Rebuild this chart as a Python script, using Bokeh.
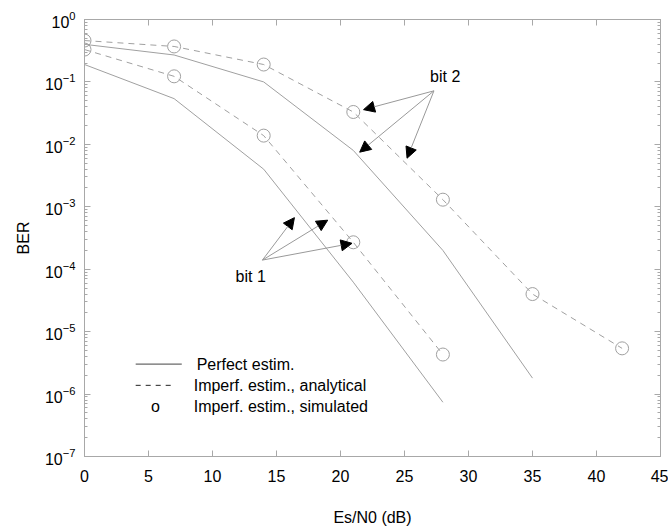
from bokeh.plotting import figure
from bokeh.models import (LogAxis, LinearAxis, LogTicker, SingleIntervalTicker, Range1d,
                          Arrow, NormalHead, Label, CustomJSTickFormatter)
from bokeh.embed import file_html
from bokeh.resources import INLINE

# ---------------- data ----------------
snr_db = [0, 7, 14, 21, 28, 35, 42]

bit1_perfect = [0.19, 0.054, 0.0040, 6.2e-5, 7.4e-7]
bit1_imperf_analytical = [0.33, 0.123, 0.0138, 2.7e-4, 4.3e-6]
bit1_imperf_simulated = [0.33, 0.123, 0.0138, 2.7e-4, 4.3e-6]

bit2_perfect = [0.40, 0.27, 0.10, 0.0080, 2.0e-4, 1.8e-6]
bit2_imperf_analytical = [0.46, 0.37, 0.19, 0.033, 1.3e-3, 4.0e-5, 5.4e-6]
bit2_imperf_simulated = [0.46, 0.37, 0.19, 0.033, 1.3e-3, 4.0e-5, 5.4e-6]

# annotation arrows (start -> end), data coordinates
bit1_label = ("bit 1", 11.8, 7.6e-5)
bit1_arrow_start = (13.9, 1.4e-4)
bit1_arrow_ends = [(16.4, 6.7e-4), (19.0, 6.1e-4), (20.9, 2.6e-4)]
bit2_label = ("bit 2", 27.0, 0.12)
bit2_arrow_start = (27.3, 0.072)
bit2_arrow_ends = [(21.8, 0.036), (21.5, 0.0075), (25.2, 0.0060)]

legend_labels = ["Perfect estim.", "Imperf. estim., analytical", "Imperf. estim., simulated"]

# ---------------- figure ----------------
FONT = "Liberation Sans"
GREY = "#a0a0a0"
AXIS_GREY = "#a8a8a8"

p = figure(width=668, height=531, x_range=Range1d(0, 45), y_range=Range1d(1e-7, 1),
           y_axis_type="log", output_backend="svg", toolbar_location=None,
           min_border_left=84, min_border_right=8, min_border_top=19, min_border_bottom=75)
p.xgrid.grid_line_color = None
p.ygrid.grid_line_color = None
p.outline_line_color = AXIS_GREY
p.background_fill_color = "white"
p.border_fill_color = "white"

x_ticker = SingleIntervalTicker(interval=5, num_minor_ticks=0)
y_ticker = LogTicker(num_minor_ticks=10)

p.xaxis.ticker = x_ticker
p.yaxis.ticker = y_ticker


def style(ax):
    ax.axis_line_color = AXIS_GREY
    ax.major_tick_line_color = AXIS_GREY
    ax.minor_tick_line_color = AXIS_GREY
    ax.major_tick_in = 6
    ax.major_tick_out = 0
    ax.minor_tick_in = 3
    ax.minor_tick_out = 0
    ax.major_label_text_font = FONT
    ax.major_label_text_font_size = "16px"
    ax.major_label_text_color = "black"
    ax.axis_label_text_font = FONT
    ax.axis_label_text_font_size = "16px"
    ax.axis_label_text_font_style = "normal"
    ax.axis_label_text_color = "black"


for ax in p.xaxis + p.yaxis:
    style(ax)

p.xaxis.axis_label = "Es/N0 (dB)"
p.xaxis.major_label_standoff = 13
p.xaxis.axis_label_standoff = 24
p.xaxis.minor_tick_line_color = None
p.yaxis.axis_label = "BER"
p.yaxis.major_label_standoff = 9
p.yaxis.axis_label_standoff = 10

blank = CustomJSTickFormatter(code="return ''")
top = LinearAxis(ticker=x_ticker, formatter=blank, major_label_standoff=0)
right = LogAxis(ticker=y_ticker, formatter=blank, major_label_standoff=0)
for ax in (top, right):
    style(ax)
    ax.major_label_text_font_size = "0px"
top.minor_tick_line_color = None
p.add_layout(top, "above")
p.add_layout(right, "right")

# ---------------- curves ----------------
p.line(snr_db[:len(bit1_perfect)], bit1_perfect, line_color=GREY, line_width=1)
p.line(snr_db[:len(bit1_imperf_analytical)], bit1_imperf_analytical,
       line_color=GREY, line_width=1, line_dash="6 5")
p.scatter(snr_db[:len(bit1_imperf_simulated)], bit1_imperf_simulated, marker="circle",
          size=13, fill_color=None, line_color=GREY, line_width=1)

p.line(snr_db[:len(bit2_perfect)], bit2_perfect, line_color=GREY, line_width=1)
p.line(snr_db[:len(bit2_imperf_analytical)], bit2_imperf_analytical,
       line_color=GREY, line_width=1, line_dash="6 5")
p.scatter(snr_db[:len(bit2_imperf_simulated)], bit2_imperf_simulated, marker="circle",
          size=13, fill_color=None, line_color=GREY, line_width=1)

# ---------------- annotations ----------------
for (lbl, lx, ly), (sx, sy), ends in ((bit1_label, bit1_arrow_start, bit1_arrow_ends),
                                      (bit2_label, bit2_arrow_start, bit2_arrow_ends)):
    for ex, ey in ends:
        p.add_layout(Arrow(x_start=sx, y_start=sy, x_end=ex, y_end=ey,
                           line_color="#999999", line_width=1,
                           end=NormalHead(size=11, fill_color="black", line_color="black",
                                          line_width=1)))
    p.add_layout(Label(x=lx, y=ly, text=lbl, text_font=FONT, text_font_size="16px",
                       text_color="black", text_align="left", text_baseline="middle"))

# ---------------- legend (drawn by hand) ----------------
leg_y = [10 ** -5.52, 10 ** -5.86, 10 ** -6.2]
p.segment(x0=[4.0], y0=[leg_y[0]], x1=[7.6], y1=[leg_y[0]], line_color="#444444", line_width=1)
p.segment(x0=[4.0], y0=[leg_y[1]], x1=[6.9], y1=[leg_y[1]], line_color="#222222",
          line_width=1, line_dash="5 5")
p.add_layout(Label(x=5.55, y=leg_y[2], text="o", text_font=FONT, text_font_size="16px",
                   text_color="black", text_align="center", text_baseline="middle"))
for i, txt in enumerate(legend_labels):
    p.add_layout(Label(x=8.76 if i == 0 else 8.53, y=leg_y[i], text=txt, text_font=FONT,
                       text_font_size="16px", text_color="black", text_align="left",
                       text_baseline="middle"))

open("out.html", "w").write(file_html(p, INLINE))
